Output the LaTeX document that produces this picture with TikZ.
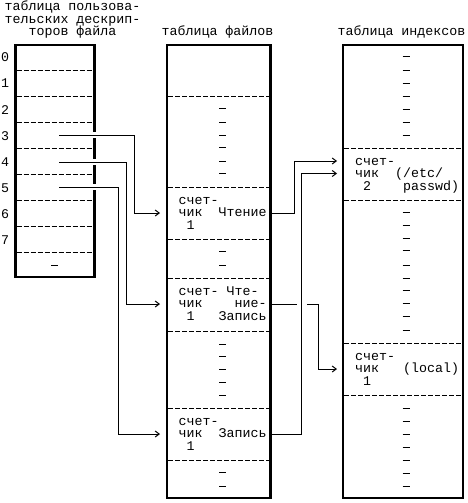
\documentclass[tikz,border=0pt]{standalone}
\usepackage{fontspec}
\newfontfamily\monofont{Liberation Mono}
\usetikzlibrary{arrows.meta}
\begin{document}
\begin{tikzpicture}[x=1pt,y=-1pt,
  tablebox/.style={line width=2.2pt},
  rowsep/.style={line width=0.9pt, dash pattern=on 5pt off 2pt},
  wire/.style={line width=1pt},
  arr/.style={wire,-{Straight Barb[length=4pt,width=6pt]}},
  txt/.style={font={\monofont\fontsize{13.3}{14}\selectfont}, inner sep=0pt, anchor=base west},
  ctxt/.style={txt, anchor=base},
  dashmark/.style={line width=1pt}]
\useasboundingbox (0,0) rectangle (467,503);

% ---------- titles ----------
\node[ctxt] (ut1) at (72.5,11) {таблица пользова-};
\node[ctxt] (ut2) at (72.5,23.5) {тельских дескрип-};
\node[ctxt] (ut3) at (72.5,36) {торов файла};
\node[ctxt] (ft) at (217.5,36) {таблица файлов};
\node[ctxt] (it) at (401.5,36) {таблица индексов};

% ---------- user descriptor table ----------
\draw[tablebox] (15.5,45.3) rectangle (94.5,277);
\foreach \y in {70,96,...,252} \draw[rowsep] (16.6,\y) -- (93.4,\y);
\foreach \k in {0,...,7} \node[ctxt] (lab\k) at (5,{62+26*\k}) {\k};
\draw[dashmark] (51,265) -- (58,265);
\foreach \y in {135,162,187} \fill[white] (92.5,\y-3.4) rectangle (96.6,\y+3.4);

% ---------- file table ----------
\draw[tablebox] (167,45.3) rectangle (270.5,498);
\foreach \y in {96,187,239,278,331,408,460} \draw[rowsep] (168.1,\y) -- (269.4,\y);
\foreach \y in {108.3,122.3,135,147.7,161,173.3,251.7,265,344.3,356.7,369,382.3,395,472.7,486}
  \draw[dashmark] (219,\y) -- (226,\y);
% entry 1
\node[txt] (fa1) at (178.5,204) {счет-};
\node[txt] (fa2) at (178.5,216.5) {чик};
\node[txt] (fa3) at (218.5,216.5) {Чтение};
\node[txt] (fa4) at (186.5,229) {1};
% entry 2
\node[txt] (fb1) at (178.5,295) {счет-};
\node[txt] (fb2) at (226.5,295) {Чте-};
\node[txt] (fb3) at (178.5,307.5) {чик};
\node[txt] (fb4) at (234.5,307.5) {ние-};
\node[txt] (fb5) at (186.5,320) {1};
\node[txt] (fb6) at (218.5,320) {Запись};
% entry 3
\node[txt] (fc1) at (178.5,425) {счет-};
\node[txt] (fc2) at (178.5,437.5) {чик};
\node[txt] (fc3) at (218.5,437.5) {Запись};
\node[txt] (fc4) at (186.5,450) {1};

% ---------- inode table ----------
\draw[tablebox] (343,45.3) rectangle (463,498);
\foreach \y in {148,200,343,395} \draw[rowsep] (344.1,\y) -- (461.9,\y);
\foreach \y in {56.7,70,83.3,96.7,109.3,122.7,135,212.3,225.7,238.3,250.7,265,278.3,290.7,303.3,316.7,330,408.3,421.7,434.3,447.7,460,473.3,486}
  \draw[dashmark] (402.5,\y) -- (409.5,\y);
\node[txt] (ia1) at (355,165) {счет-};
\node[txt] (ia2) at (355,177.5) {чик};
\node[txt] (ia3) at (395,177.5) {(/etc/};
\node[txt] (ia4) at (363,190) {2};
\node[txt] (ia5) at (403,190) {passwd)};
\node[txt] (ib1) at (355,360) {счет-};
\node[txt] (ib2) at (355,372.5) {чик};
\node[txt] (ib3) at (403,372.5) {(local)};
\node[txt] (ib4) at (363,385) {1};

% ---------- connector ends ----------
\coordinate (u3) at (59,135);
\coordinate (u4) at (59,162);
\coordinate (u5) at (59,187);
\coordinate (f1in) at (160,213);
\coordinate (f2in) at (160,304);
\coordinate (f3in) at (160,434);
\coordinate (f1out) at (270.5,213);
\coordinate (f2out) at (270.5,304);
\coordinate (f3out) at (270.5,434);
\coordinate (i1a) at (337,161);
\coordinate (i1b) at (337,173.5);
\coordinate (i2a) at (337,369);

% ---------- connectors ----------
\draw[arr] (u3) -- (134.3,135) |- (f1in);
\draw[arr] (u4) -- (126,162) |- (f2in);
\draw[arr] (u5) -- (118.3,187) |- (f3in);
\draw[arr] (f1out) -- (294.3,213) |- (i1a);
\draw[arr] (f2out) -- (318,304) |- (i2a);
\fill[white] (297,301) rectangle (306.5,307);
\draw[arr] (f3out) -- (301.7,434) |- (i1b);
\end{tikzpicture}
\end{document}
